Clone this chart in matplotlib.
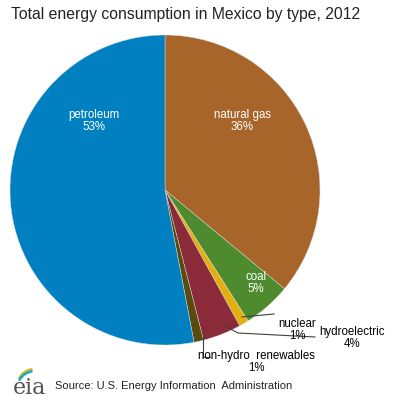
import matplotlib

matplotlib.use("Agg")
import matplotlib.pyplot as plt
from matplotlib.patches import Arc

plt.rcParams["font.family"] = ["Liberation Sans", "DejaVu Sans"]

# data, clockwise from 12 o'clock
labels = ["natural gas", "coal", "nuclear", "hydroelectric", "non-hydro renewables", "petroleum"]
shares = [36, 5, 1, 4, 1, 53]
colors = ["#A8652A", "#4E8A2E", "#E3B00F", "#8B2B3A", "#5A4A0E", "#0080C0"]

W = H = 400.0


def fx(px):
    return px / W


def fy(py):
    return 1 - py / H


fig = plt.figure(figsize=(4, 4), dpi=100)
fig.patch.set_facecolor("white")

# pie centre (165, 190) px, radius 155 px
cx, cy, r = 165, 190, 155
ax = fig.add_axes([fx(cx - r), fy(cy + r), 2 * r / W, 2 * r / H])
wedges, _ = ax.pie(shares, colors=colors, startangle=90, counterclock=False,
                   wedgeprops=dict(linewidth=0.3, edgecolor="#dddddd"))
ax.set_xlim(-1, 1)
ax.set_ylim(-1, 1)
ax.set_aspect("equal")
ax.axis("off")

# labels in figure pixel coords
inside = {"petroleum": (94, 121), "natural gas": (242, 121), "coal": (256, 283)}
for lab, pct in zip(labels, shares):
    if lab in inside:
        x, y = inside[lab]
        fig.text(fx(x), fy(y), f"{lab}\n{pct}%", color="white", ha="center",
                 va="center", fontsize=8.3, linespacing=1.1)

fig.text(fx(297), fy(330), f"nuclear\n{shares[2]}%", ha="center", va="center",
         fontsize=8.3, linespacing=1.1)
fig.text(fx(352), fy(338), f"hydroelectric\n{shares[3]}%", ha="center", va="center",
         fontsize=8.3, linespacing=1.1)
fig.text(fx(256), fy(362), f"non-hydro  renewables\n{shares[4]}%", ha="center",
         va="center", fontsize=8.3, linespacing=1.1)

# leader lines
lw = 0.8
fig.add_artist(plt.Line2D([fx(242), fx(274)], [fy(317), fy(314)], color="#404040", lw=lw))
fig.add_artist(plt.Line2D([fx(225), fx(238), fx(315)], [fy(326), fy(333), fy(337)],
                          color="#404040", lw=lw))
fig.add_artist(plt.Line2D([fx(203), fx(203), fx(210)], [fy(333), fy(357), fy(357)],
                          color="#404040", lw=lw))

fig.text(fx(11), fy(15), "Total energy consumption in Mexico by type, 2012",
         fontsize=11.3, ha="left", va="center", color="#222222")

# eia logo + source
lax = fig.add_axes([fx(10), fy(397), 40 / W, 34 / H])
lax.set_xlim(0, 40)
lax.set_ylim(0, 34)
lax.axis("off")
for i, c in enumerate(["#F2B705", "#8DC63F", "#1BA0D7"]):
    lax.add_patch(Arc((24, 10 - i * 1.2), 34, 36, theta1=95, theta2=150,
                      color=c, lw=1.6))
lax.text(20, 9, "eia", fontsize=16, family="DejaVu Serif", color="#555555",
         ha="center", va="center")
fig.text(fx(55), fy(386), "Source: U.S. Energy Information  Administration",
         fontsize=8, ha="left", va="center", color="#222222")

fig.savefig("out.png", dpi=100, facecolor="white")
